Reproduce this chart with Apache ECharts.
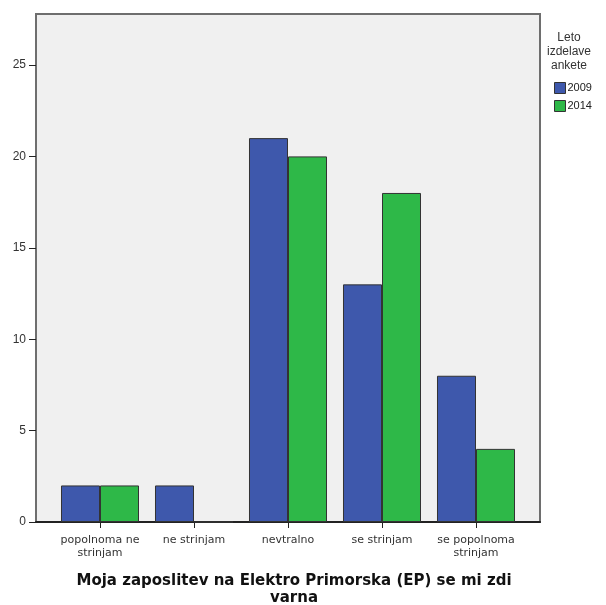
<!DOCTYPE html>
<html><head><meta charset="utf-8">
<script src="https://cdn.jsdelivr.net/npm/echarts@6/dist/echarts.min.js"></script>
<style>html,body{margin:0;padding:0;background:#fff}#c{width:606px;height:605px}</style>
</head><body><div id="c"></div>
<script>
var categories = ['popolnoma ne\nstrinjam', 'ne strinjam', 'nevtralno', 'se strinjam', 'se popolnoma\nstrinjam'];
var values2009 = [2, 2, 21, 13, 8];
var values2014 = [2, 0, 20, 18, 4];
var yTicks = [0, 5, 10, 15, 20, 25];
var legendTitle = 'Leto\nizdelave\nankete';
var chartTitle = 'Moja zaposlitev na Elektro Primorska (EP) se mi zdi\nvarna';

var chart = echarts.init(document.getElementById('c'));
chart.setOption({
  animation: false,
  textStyle: {fontFamily: 'DejaVu Sans'},
  title: [
    {text: chartTitle, left: 289, top: 568, textAlign: 'center',
     textStyle: {fontFamily: 'DejaVu Sans', fontWeight: 'bold', fontSize: 15, color: '#111', lineHeight: 17}},
    {text: legendTitle, left: 564, top: 26, textAlign: 'center',
     textStyle: {fontFamily: 'Liberation Sans', fontWeight: 'normal', fontSize: 12, color: '#333', lineHeight: 14}}
  ],
  legend: {
    orient: 'vertical', left: 549, top: 77, itemWidth: 11, itemHeight: 11, itemGap: 6, itemStyle: {borderColor: '#333', borderWidth: 1},
    icon: 'rect', textStyle: {fontFamily: 'Liberation Sans', fontSize: 11, color: '#222', padding: [0,0,0,-3]},
    data: ['2009', '2014']
  },
  grid: [
    {left: 36, right: 66, top: 14, bottom: 83, show: true, backgroundColor: '#f0f0f0', borderColor: '#6e6e6e', borderWidth: 2, z: 0},
    {left: 53, right: 83, top: 65, bottom: 83}
  ],
  xAxis: [
    {gridIndex: 0, type: 'value', min: 0, max: 1, axisLine: {show: true, onZero: false, lineStyle: {color: '#222', width: 2}},
     axisTick: {show: false}, axisLabel: {show: false}, splitLine: {show: false}},
    {gridIndex: 1, type: 'category', data: categories,
     axisLine: {show: false}, axisTick: {show: true, alignWithLabel: true, length: 6, lineStyle: {color: '#222'}},
     axisLabel: {interval: 0, fontSize: 11, color: '#333', margin: 12, lineHeight: 13, fontFamily: 'DejaVu Sans'}}
  ],
  yAxis: [
    {gridIndex: 0, type: 'value', min: 0, max: 1, show: false},
    {gridIndex: 1, type: 'value', min: 0, max: 25, interval: 5, offset: 17,
     axisLine: {show: false}, axisTick: {show: true, length: 7, lineStyle: {color: '#222'}},
     axisLabel: {fontSize: 12, color: '#333', margin: 10, fontFamily: 'Liberation Sans',
       formatter: function(v){ return yTicks.indexOf(v) >= 0 ? String(v) : ''; }},
     splitLine: {show: false}}
  ],
  series: [
    {name: '2009', type: 'bar', xAxisIndex: 1, yAxisIndex: 1, data: values2009,
     barGap: '0%', barCategoryGap: '17%',
     itemStyle: {color: '#3e58ac', borderColor: '#333', borderWidth: 1}},
    {name: '2014', type: 'bar', xAxisIndex: 1, yAxisIndex: 1, data: values2014,
     itemStyle: {color: '#2eb848', borderColor: '#333', borderWidth: 1}}
  ]
});
</script></body></html>
